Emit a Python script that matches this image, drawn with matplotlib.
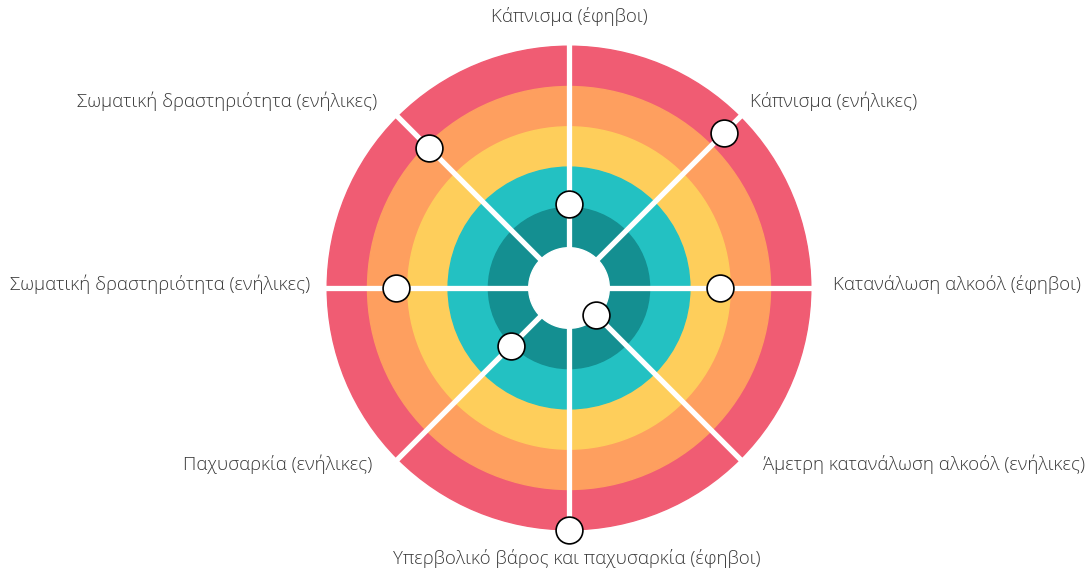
import numpy as np
import matplotlib.pyplot as plt
from matplotlib.patches import Circle

plt.rcParams['font.family'] = ['Open Sans', 'DejaVu Sans']

# indicators, clockwise from the top
labels = ['Κάπνισμα (έφηβοι)',
          'Κάπνισμα (ενήλικες)',
          'Κατανάλωση αλκοόλ (έφηβοι)',
          'Άμετρη κατανάλωση αλκοόλ (ενήλικες)',
          'Υπερβολικό βάρος και παχυσαρκία (έφηβοι)',
          'Παχυσαρκία (ενήλικες)',
          'Σωματική δραστηριότητα (ενήλικες)',
          'Σωματική δραστηριότητα (ενήλικες)']
# position of each country marker on the 0..6 ring scale
values = [2.08, 5.45, 3.75, 0.95, 6.0, 2.05, 4.3, 4.9]

ring_edges = [6, 5, 4, 3, 2, 1]
ring_colors = ['#F05C73', '#FE9F5F', '#FECE5B', '#23C1C2', '#148F91', '#FFFFFF']

cx, cy = 569, 288          # centre of the wheel (pixels)
unit = 40.3                # pixels per ring

fig = plt.figure(figsize=(10.88, 5.72), dpi=100)
ax = fig.add_axes([0, 0, 1, 1])
ax.set_xlim(0, 1088)
ax.set_ylim(572, 0)
ax.set_aspect('equal')
ax.axis('off')

for r, c in zip(ring_edges, ring_colors):
    ax.add_patch(Circle((cx, cy), r * unit, color=c, zorder=1))

angles = np.deg2rad(np.arange(len(labels)) * 45)
for a in angles:
    ax.plot([cx, cx + 245 * np.sin(a)], [cy, cy - 245 * np.cos(a)],
            color='white', lw=3.8, zorder=2, solid_capstyle='butt')

for a, v in zip(angles, values):
    ax.plot(cx + v * unit * np.sin(a), cy - v * unit * np.cos(a), 'o',
            ms=19.3, mfc='white', mec='black', mew=1.2, zorder=3)

# label placement
lab_pos = [(569, 17, 'center'), (750, 101, 'left'), (833, 284, 'left'),
           (763, 464, 'left'), (577, 558, 'center'), (372, 464, 'right'),
           (310, 284, 'right'), (377, 101, 'right')]
for t, (x, y, ha) in zip(labels, lab_pos):
    ax.text(x, y, t, ha=ha, va='center', fontsize=13.4, color='#3a3a3a',
            fontweight='light')

fig.savefig('out.png', dpi=100)
